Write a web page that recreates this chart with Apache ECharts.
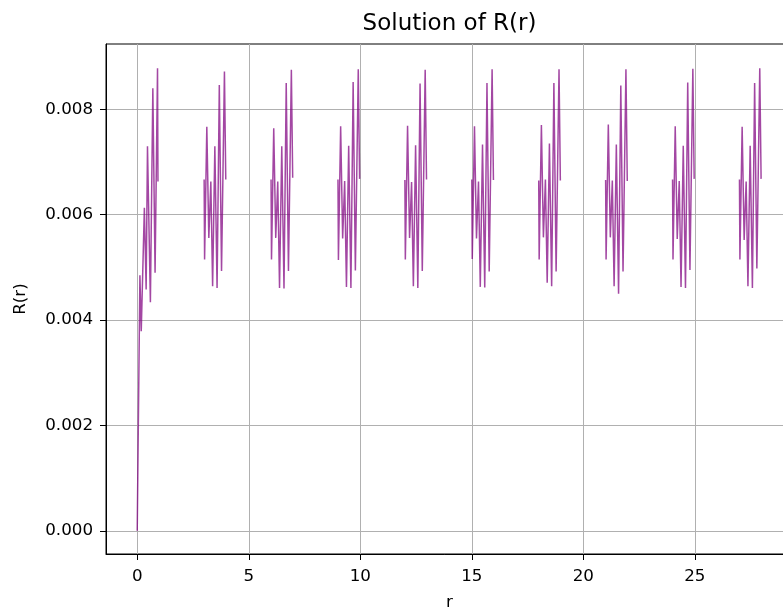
<!DOCTYPE html>
<html>
<head>
<meta charset="utf-8">
<title>Solution of R(r)</title>
<script src="https://cdn.jsdelivr.net/npm/echarts@6/dist/echarts.min.js"></script>
<style>
  html, body { margin: 0; padding: 0; background: #fff; }
  #chart { width: 783px; height: 611px; }
</style>
</head>
<body>
<div id="chart"></div>
<script>
// first burst, starting at r = 0
const firstR = [0, 0.12, 0.18, 0.32, 0.40, 0.46, 0.59, 0.70, 0.80, 0.91, 0.93];
const firstVals = [0, 0.00485, 0.00379, 0.00613, 0.00458, 0.00730, 0.00434, 0.00840, 0.00490, 0.00878, 0.00663];

// later bursts: start of each burst and the r offsets inside one burst
const burstStarts = [3, 6, 9, 12, 15, 18, 21, 24, 27];
const burstOffsets = [0, 0.02, 0.12, 0.21, 0.30, 0.38, 0.48, 0.58, 0.68, 0.78, 0.91, 0.97];
const burstVals = [
  [0.00667, 0.00515, 0.00767, 0.00556, 0.00663, 0.00464, 0.00730, 0.00461, 0.00846, 0.00493, 0.00872, 0.00667],
  [0.00667, 0.00515, 0.00764, 0.00556, 0.00663, 0.00461, 0.00730, 0.00460, 0.00850, 0.00493, 0.00875, 0.00670],
  [0.00667, 0.00514, 0.00768, 0.00555, 0.00664, 0.00463, 0.00731, 0.00461, 0.00852, 0.00494, 0.00876, 0.00668],
  [0.00666, 0.00515, 0.00769, 0.00556, 0.00662, 0.00464, 0.00732, 0.00461, 0.00849, 0.00493, 0.00875, 0.00667],
  [0.00667, 0.00516, 0.00768, 0.00555, 0.00663, 0.00463, 0.00733, 0.00462, 0.00850, 0.00492, 0.00876, 0.00666],
  [0.00665, 0.00515, 0.00770, 0.00557, 0.00667, 0.00471, 0.00735, 0.00464, 0.00850, 0.00492, 0.00876, 0.00665],
  [0.00666, 0.00515, 0.00771, 0.00557, 0.00665, 0.00464, 0.00733, 0.00450, 0.00845, 0.00492, 0.00876, 0.00664],
  [0.00667, 0.00515, 0.00768, 0.00554, 0.00664, 0.00463, 0.00731, 0.00461, 0.00851, 0.00495, 0.00877, 0.00668],
  [0.00667, 0.00515, 0.00767, 0.00552, 0.00663, 0.00464, 0.00731, 0.00461, 0.00850, 0.00498, 0.00878, 0.00668]
];

const xTicks = [0, 5, 10, 15, 20, 25];
const yTicks = [0, 0.002, 0.004, 0.006, 0.008];

// build [r, R] pairs, with a null point between bursts so the line breaks
let lineData = [];
firstR.forEach((r, i) => lineData.push([r, firstVals[i]]));
burstStarts.forEach((s, b) => {
  lineData.push([s - 1, null]);
  burstOffsets.forEach((o, i) => lineData.push([s + o, burstVals[b][i]]));
});

const font = 'DejaVu Sans';
const chart = echarts.init(document.getElementById('chart'));
chart.setOption({
  animation: false,
  backgroundColor: '#fff',
  graphic: [{
    type: 'text',
    x: 449.5,
    y: 24,
    style: {
      text: 'Solution of R(r)',
      align: 'center',
      verticalAlign: 'middle',
      font: '23px "DejaVu Sans"',
      fill: '#000'
    }
  }],
  grid: {
    left: 106,
    top: 44,
    bottom: 57,
    right: -10,
    show: true,
    borderColor: '#000',
    borderWidth: 1,
    containLabel: false,
    outerBoundsMode: 'none'
  },
  xAxis: {
    type: 'value',
    min: -1.4,
    max: 29.4,
    name: 'r',
    nameLocation: 'middle',
    nameGap: 40,
    nameTextStyle: { fontFamily: font, fontSize: 16.7, color: '#000' },
    axisLine: { show: true, onZero: false, lineStyle: { color: '#000', width: 1 } },
    axisTick: { show: true, customValues: xTicks, length: 6, lineStyle: { color: '#000' } },
    axisLabel: { customValues: xTicks, margin: 14, fontFamily: font, fontSize: 16.7, color: '#000',
      formatter: v => String(v) },
    splitLine: { show: true, lineStyle: { color: '#b0b0b0', width: 1 } }
  },
  yAxis: {
    type: 'value',
    min: -0.00044,
    max: 0.00924,
    name: 'R(r)',
    nameLocation: 'middle',
    nameGap: 77,
    nameTextStyle: { fontFamily: font, fontSize: 16.7, color: '#000' },
    axisLine: { show: true, onZero: false, lineStyle: { color: '#000', width: 1 } },
    axisTick: { show: true, customValues: yTicks, length: 6, lineStyle: { color: '#000' } },
    axisLabel: { customValues: yTicks, margin: 13, fontFamily: font, fontSize: 16.7, color: '#000',
      formatter: v => v.toFixed(3) },
    splitLine: { show: true, lineStyle: { color: '#b0b0b0', width: 1 } }
  },
  series: [{
    type: 'line',
    data: lineData,
    showSymbol: false,
    connectNulls: false,
    clip: true,
    lineStyle: { color: 'rgba(128,0,128,0.72)', width: 1.5 }
  }]
});
</script>
</body>
</html>
